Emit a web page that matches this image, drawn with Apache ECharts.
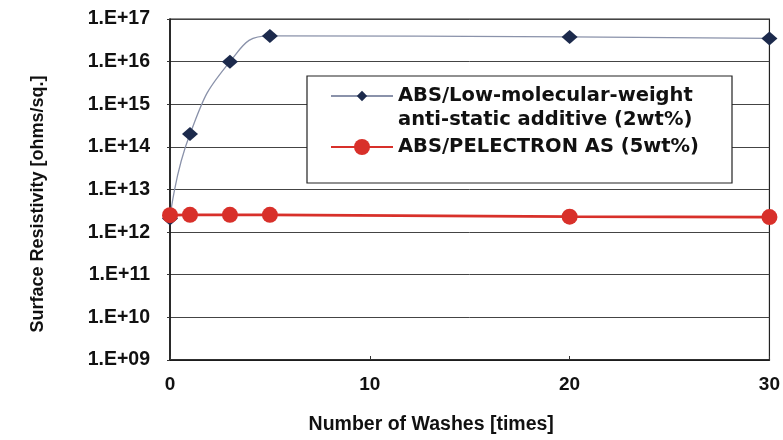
<!DOCTYPE html>
<html>
<head>
<meta charset="utf-8">
<script src="https://cdn.jsdelivr.net/npm/echarts@6/dist/echarts.min.js"></script>
<style>html,body{margin:0;padding:0;background:#fff}#c{width:783px;height:440px}</style>
</head>
<body>
<div id="c"></div>
<script>
const washes = [0, 1, 3, 5, 20, 30];
const lowMwValues = [2.1e12, 2.0e14, 1.0e16, 4.0e16, 3.8e16, 3.5e16];
const pelectronValues = [2.5e12, 2.55e12, 2.55e12, 2.55e12, 2.3e12, 2.25e12];
const seriesNames = ['ABS/Low-molecular-weight\nanti-static additive (2wt%)', 'ABS/PELECTRON AS (5wt%)'];
const xTicks = [0, 10, 20, 30];
const yMin = 1e9, yMax = 1e17;

const chart = echarts.init(document.getElementById('c'));
const axisFont = 'Liberation Sans, Arial, sans-serif';
const legendText = {
  fontFamily: 'DejaVu Sans', fontWeight: 'bold', fontSize: 19.5, lineHeight: 24, color: '#111'
};
chart.setOption({
  animation: false,
  backgroundColor: '#fff',
  grid: { left: 170, right: 10, top: 19, bottom: 74, show: true, borderColor: '#222', borderWidth: 1.2 },
  xAxis: {
    type: 'value', min: xTicks[0], max: xTicks[xTicks.length - 1], interval: 10,
    name: 'Number of Washes [times]', nameLocation: 'middle', nameGap: 55,
    nameTextStyle: { fontFamily: axisFont, fontWeight: 'bold', fontSize: 19.5, color: '#111', padding: [0, 77, 0, 0] },
    axisLine: { lineStyle: { color: '#111', width: 1.5 } },
    axisTick: { show: true, inside: true, length: 4, lineStyle: { color: '#333' } },
    axisLabel: { fontFamily: axisFont, fontWeight: 'bold', fontSize: 19, color: '#111', margin: 15 },
    splitLine: { show: false }
  },
  yAxis: {
    type: 'log', logBase: 10, min: yMin, max: yMax, interval: 1,
    name: 'Surface Resistivity [ohms/sq.]', nameLocation: 'middle', nameGap: 123,
    nameTextStyle: { fontFamily: axisFont, fontWeight: 'bold', fontSize: 18, color: '#111', padding: [0, 29, 0, 0] },
    axisLine: { show: true, lineStyle: { color: '#111', width: 1.5 } },
    axisTick: { show: true, length: 3, lineStyle: { color: '#333' } },
    axisLabel: {
      fontFamily: axisFont, fontWeight: 'bold', fontSize: 19.5, color: '#111', margin: 20,
      formatter: v => '1.E+' + String(Math.round(Math.log10(v))).padStart(2, '0')
    },
    splitLine: { show: true, lineStyle: { color: '#444', width: 1 } }
  },
  graphic: [{
    type: 'rect', z: 3,
    shape: { x: 307, y: 76, width: 425, height: 107 },
    style: { fill: '#fff', stroke: '#222', lineWidth: 1.2 }
  }],
  legend: [{
    z: 5, left: 330, top: 60, padding: 0, orient: 'vertical', selectedMode: false,
    itemWidth: 62, itemHeight: 13,
    data: [seriesNames[0]],
    formatter: name => ' \n' + name,
    textStyle: legendText
  }, {
    z: 5, left: 330, top: 135, padding: 0, orient: 'vertical', selectedMode: false,
    itemWidth: 62, itemHeight: 20,
    data: [seriesNames[1]],
    textStyle: legendText
  }],
  series: [{
    name: seriesNames[0], type: 'line', smooth: 0.5,
    data: washes.map((x, i) => [x, lowMwValues[i]]),
    symbol: 'diamond', symbolSize: [16, 14],
    itemStyle: { color: '#1c2a4c' },
    lineStyle: { color: '#8a92aa', width: 1.3 },
    z: 3
  }, {
    name: seriesNames[1], type: 'line',
    data: washes.map((x, i) => [x, pelectronValues[i]]),
    symbol: 'circle', symbolSize: 16,
    itemStyle: { color: '#d8302a' },
    lineStyle: { color: '#d8302a', width: 2.8 },
    z: 4
  }]
});
</script>
</body>
</html>
